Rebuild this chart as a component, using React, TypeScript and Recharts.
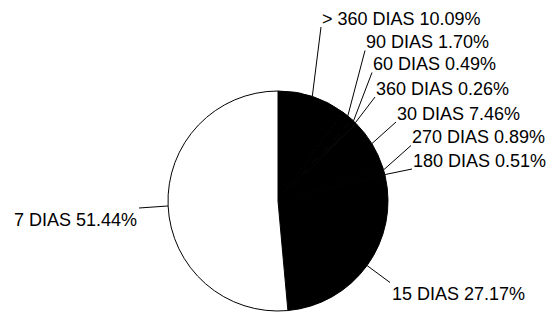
import React from 'react';
import { PieChart, Pie, Cell } from 'recharts';

const names = ['> 360 DIAS', '90 DIAS', '60 DIAS', '360 DIAS', '30 DIAS', '270 DIAS', '180 DIAS', '15 DIAS', '7 DIAS'];
const values = [10.09, 1.7, 0.49, 0.26, 7.46, 0.89, 0.51, 27.17, 51.44];
const fills = ['#000', '#000', '#000', '#000', '#000', '#000', '#000', '#000', '#fff'];

// label layout: text anchor point (x, baseline y), anchor side
const labelLayout: { x: number; y: number; side: 'upright' | 'downright' | 'left' }[] = [
  { x: 322, y: 24.5, side: 'upright' },
  { x: 366, y: 48, side: 'upright' },
  { x: 373, y: 70, side: 'upright' },
  { x: 376, y: 94.5, side: 'upright' },
  { x: 397, y: 119.5, side: 'upright' },
  { x: 412, y: 143, side: 'upright' },
  { x: 413, y: 166.5, side: 'upright' },
  { x: 392, y: 299.5, side: 'downright' },
  { x: 137, y: 226, side: 'left' },
];

const data = names.map((n, i) => ({ name: n, value: values[i] }));
const RAD = Math.PI / 180;

const renderLabel = (props: any) => {
  const { cx, cy, midAngle, outerRadius, index } = props;
  const sx = cx + outerRadius * Math.cos(-midAngle * RAD);
  const sy = cy + outerRadius * Math.sin(-midAngle * RAD);
  const lay = labelLayout[index];
  let ex = lay.x - 1;
  let ey = lay.y + 2.5;
  if (lay.side === 'downright') {
    ex = lay.x - 2;
    ey = lay.y - 17;
  } else if (lay.side === 'left') {
    ex = lay.x + 2;
    ey = lay.y - 18;
  }
  return (
    <g key={`lab-${index}`}>
      <line x1={sx} y1={sy} x2={ex} y2={ey} stroke="#000" strokeWidth={1} />
      <text
        x={lay.x}
        y={lay.y}
        textAnchor={lay.side === 'left' ? 'end' : 'start'}
        fontSize={18}
        fontFamily="'Liberation Sans', Arial, sans-serif"
        fill="#000"
      >
        {`${names[index]} ${values[index].toFixed(2)}%`}
      </text>
    </g>
  );
};

export default function App() {
  return (
    <div style={{ position: 'absolute', left: 0, top: 0, width: 550, height: 314, background: '#fff' }}>
      <PieChart width={550} height={314} margin={{ top: 0, right: 0, bottom: 0, left: 0 }}>
        <Pie
          data={data}
          dataKey="value"
          nameKey="name"
          cx={278}
          cy={201}
          outerRadius={110}
          startAngle={90}
          endAngle={-270}
          stroke="#000"
          strokeWidth={1}
          label={renderLabel}
          labelLine={false}
          isAnimationActive={false}
        >
          {data.map((d, i) => (
            <Cell key={d.name} fill={fills[i]} />
          ))}
        </Pie>
      </PieChart>
    </div>
  );
}
